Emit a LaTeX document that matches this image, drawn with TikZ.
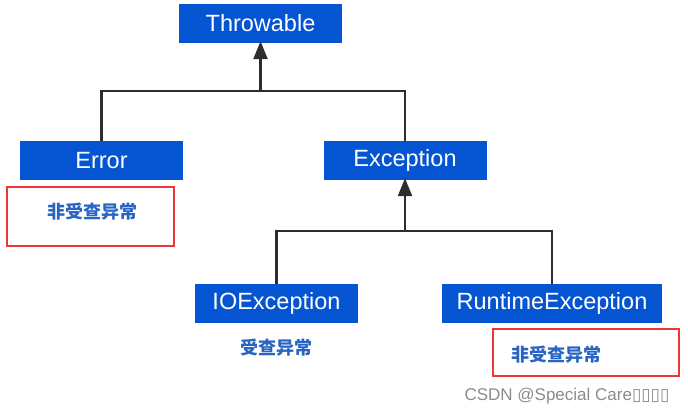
\documentclass[tikz,border=0pt]{standalone}
\usepackage{fontspec}
\setmainfont{Liberation Sans}
\newfontfamily\cjk{Noto Sans CJK SC}
\newfontfamily\symfont{DejaVu Sans}
\usepackage{xcolor}
\usetikzlibrary{arrows.meta}
\definecolor{BoxBlue}{RGB}{5,85,210}
\definecolor{NoteBlue}{RGB}{40,100,195}
\definecolor{NoteRed}{RGB}{235,55,55}
\definecolor{Link}{RGB}{45,45,45}
\definecolor{Mark}{RGB}{140,140,140}

\tikzset{
  cls/.style={fill=BoxBlue, text=white, minimum width=163pt, minimum height=39pt, inner sep=0pt, font=\fontsize{23.5}{23.5}\selectfont},
  note/.style={text=NoteBlue, font=\cjk\bfseries\fontsize{18}{18}\selectfont},
  link/.style={Link, line width=2.4pt},
  redbox/.style={draw=NoteRed, line width=2pt}
}

\begin{document}
\begin{tikzpicture}[x=1pt,y=-1pt,>={Triangle[length=18pt,width=14pt]}]
\useasboundingbox (0,0) rectangle (688,414);

\node[cls] (thr) at (260.5,23.5) {Throwable};
\node[cls] (err) at (101.5,161) {Error};
\node[cls] (exc) at (405,160.5) {Exception};
\node[cls] (ioe) at (276.5,303.5) {IOException};
\node[cls, minimum width=220pt] (rte) at (552,303.5) {RuntimeException};

\coordinate (j1) at (thr.south |- 0,91);
\coordinate (j2) at (exc.south |- 0,231);
\draw[link] (err.north) |- (j1) -| (exc.north);
\draw[link,->] (j1) -- ([yshift=2pt]thr.south);
\draw[link] (ioe.north) |- (j2) -| (rte.north);
\draw[link,->] (j2) -- ([yshift=2pt]exc.south);

\draw[redbox] (7,187) rectangle (174,246);
\node[note] (errnote) at (92,212) {非受查异常};
\node[note] (ioenote) at (276,348) {受查异常};
\draw[redbox] (493,329) rectangle (679,376);
\node[note] (rtenote) at (556,355) {非受查异常};

\node[Mark, anchor=west, font=\fontsize{17}{17}\selectfont] (mark) at (461,396) {CSDN @Special Care{\symfont ▯▯▯▯}};
\end{tikzpicture}
\end{document}
